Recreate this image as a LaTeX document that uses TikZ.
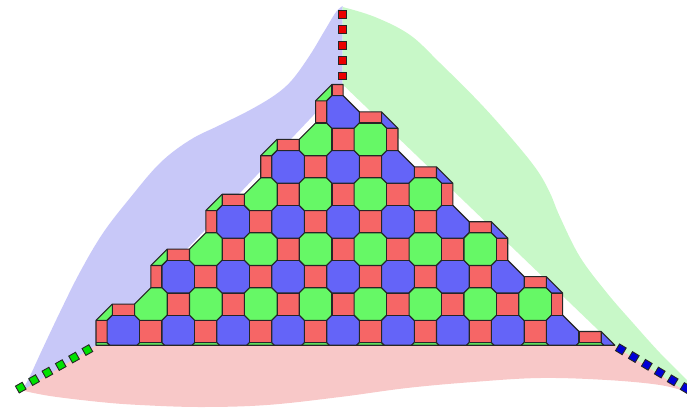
\documentclass[tikz,border=0pt]{standalone}
\definecolor{octblue}{RGB}{100,100,248}
\definecolor{octgreen}{RGB}{102,248,102}
\definecolor{sqred}{RGB}{246,102,102}
\definecolor{bgblue}{RGB}{200,200,248}
\definecolor{bggreen}{RGB}{200,248,200}
\definecolor{bgred}{RGB}{248,200,200}
\definecolor{dred}{RGB}{235,0,0}
\definecolor{dgreen}{RGB}{0,225,0}
\definecolor{dblue}{RGB}{0,0,215}
\tikzset{
  cell/.style={draw=black!85, line width=1.1pt, line join=round},
  dashsq/.style={draw=black!85, line width=0.9pt, line join=miter}
}
\newcommand\dsq[4]{\filldraw[dashsq, fill=#4, shift={(#1,#2)}, rotate=#3] (-3.9,-3.9) rectangle (3.9,3.9);}
\def\clippoly{(0,-0.5) -- (0,\a) -- (\b,1) -- (1+\a,1) -- (2,2-\a) -- (2,2+\a) -- (2+\b,3) -- (3+\a,3) -- (4,4-\a) -- (4,4+\a) -- (4+\b,5) -- (5+\a,5) -- (6,6-\a) -- (6,6+\a) -- (6+\b,7) -- (7+\a,7) -- (8,8-\a) -- (8,8+\a) -- (8+\b,9) -- (9,9) -- (9,9-\a) -- (9+\b,8) -- (10+\a,8) -- (11,7+\a) -- (11,7-\a) -- (11+\b,6) -- (12+\a,6) -- (13,5+\a) -- (13,5-\a) -- (13+\b,4) -- (14+\a,4) -- (15,3+\a) -- (15,3-\a) -- (15+\b,2) -- (16+\a,2) -- (17,1+\a) -- (17,1-\a) -- (17+\b,0) -- (18+\a,0) -- (18.5+\a,-0.5) -- cycle}
\begin{document}
\begin{tikzpicture}[x=1pt,y=-1pt]
\useasboundingbox (0,0) rectangle (687,407);
% background regions
\fill[bgred] (96,345.2) -- (614,345.2) -- (687,392)
  -- plot[smooth,tension=0.6] coordinates {(687,392) (660,385) (607,380) (540,378) (473,382) (407,388) (340,397) (267,405) (200,407) (140,405) (100,402) (50,396) (20,390)} -- cycle;
\fill[bgblue] (342.6,84.45) -- (342.6,6)
  -- plot[smooth,tension=0.6] coordinates {(342.6,6) (336,12) (325,30) (310,55) (292,80) (275,95) (250,110) (220,125) (190,140) (160,163) (130,198) (103,233) (80,272) (60,312) (42,350) (28,380) (20,392)} -- (96,345.2) -- cycle;
\fill[bggreen] (342.6,84.45) -- (342.6,7)
  -- plot[smooth,tension=0.6] coordinates {(342.6,7) (375,17) (410,35) (440,63) (480,103) (513,140) (537,170) (550,193) (560,217) (580,257) (607,293) (633,323) (660,353) (687,380)} -- (687,392) -- (614,345.2) -- cycle;
% tiling
\begin{scope}[shift={(96,331.5)}]
\begin{scope}[x=27.45pt,y=27.45pt]
  \def\a{0.4044}\def\b{0.5956}
  \begin{scope}
    \clip \clippoly;
    \foreach \i in {-1,...,20}{
      \foreach \j in {-1,...,10}{
        \ifodd\numexpr\i+\j+20\relax
          \ifodd\numexpr\j+20\relax\def\col{octgreen}\else\def\col{octblue}\fi
          \filldraw[cell, fill=\col] (\i-\a,\j-\b) -- (\i+\a,\j-\b) -- (\i+\b,\j-\a) -- (\i+\b,\j+\a) -- (\i+\a,\j+\b) -- (\i-\a,\j+\b) -- (\i-\b,\j+\a) -- (\i-\b,\j-\a) -- cycle;
        \else
          \filldraw[cell, fill=sqred] (\i-\a,\j-\a) rectangle (\i+\a,\j+\a);
        \fi
      }
    }
  \end{scope}
  \draw[cell] \clippoly;
\end{scope}
\end{scope}
% dashed lines of squares
\foreach \k in {0,...,4}{
  \pgfmathsetmacro\t{8.45+15.4*\k}
  \dsq{342.6}{84.45-\t}{0}{dred}
}
\foreach \k in {0,...,5}{
  \pgfmathsetmacro\t{9.9+15.3*\k}
  \dsq{96-0.871*\t}{345.2+0.491*\t}{29.4}{dgreen}
}
\foreach \k in {0,...,5}{
  \pgfmathsetmacro\t{8+15.1*\k}
  \dsq{614+0.858*\t}{345.2+0.513*\t}{-30.9}{dblue}
}
\end{tikzpicture}
\end{document}
